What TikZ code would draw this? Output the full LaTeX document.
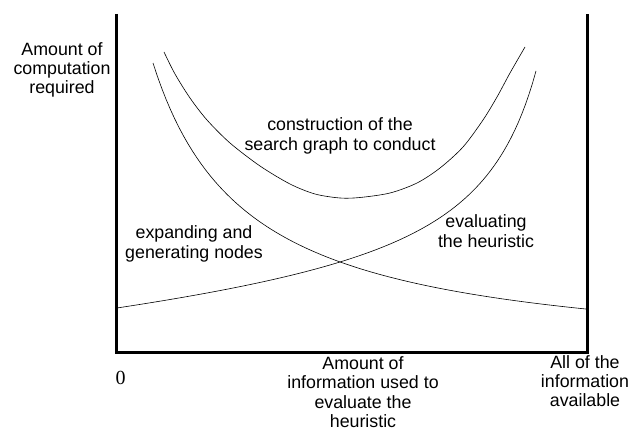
\documentclass[tikz,border=0pt]{standalone}
\usepackage{fontspec}
\setmainfont{Liberation Sans}
\newfontfamily\zerofont{Liberation Serif}

\begin{document}
\begin{tikzpicture}[x=1pt, y=-1pt,
  axis/.style={line width=3pt, line join=miter},
  curve/.style={line width=0.6pt},
  lbl/.style={align=center, inner sep=0pt, font=\fontsize{17.8}{19.3}\selectfont}]
\useasboundingbox (0,0) rectangle (629,430);

% axes
\draw[axis] (116,14) -- (116,352) -- (587,352) -- (587,14);

% cost of evaluating the heuristic
\draw[curve] plot[domain=117:536, samples=120] (\x, {338.5-0.0889*(\x-117)-147.39/((600-\x)/100)});
% cost of expanding and generating nodes
\draw[curve] plot[domain=153:586, samples=100] (\x, {363-284.99/((\x-58)/100)});
% total
\draw[curve] plot[smooth] coordinates {(164,52) (175,74) (190,98) (207,120) (230,143)
  (260,166) (290,184) (315,194) (340,198) (360,197.5) (390,193) (417,183) (440,168)
  (463,147) (483,120) (497,97) (510,73) (525,47)};

\node[lbl] (ylab) at (62,70) {Amount of\\computation\\required};
\node[lbl] (search) at (340,136) {construction of the\\search graph to conduct};
\node[lbl] (expand) at (194,244) {expanding and\\generating nodes};
\node[lbl] (evalh) at (486,231) {evaluating\\the heuristic};
\node[lbl] (xlab) at (363,392) {Amount of\\information used to\\evaluate the\\heuristic};
\node[lbl] (allinfo) at (585,381) {All of the\\information\\available};
\node[font=\zerofont\fontsize{20}{24}\selectfont, inner sep=0pt] (zero) at (120.5,378) {0};
\end{tikzpicture}
\end{document}
